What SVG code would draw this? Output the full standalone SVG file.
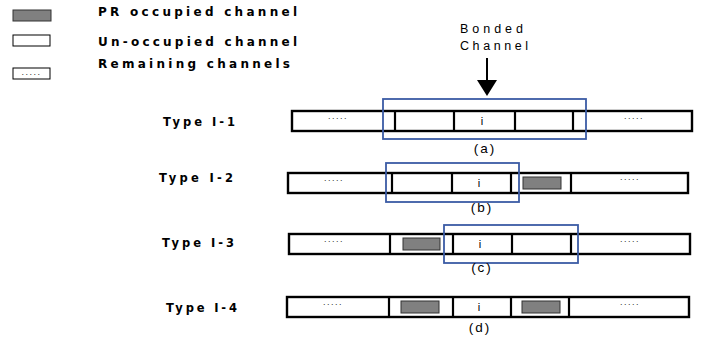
<svg xmlns="http://www.w3.org/2000/svg" width="709" height="343" viewBox="0 0 709 343">
<style>
.bar{fill:#fff;stroke:#000;stroke-width:2.4}
.div{stroke:#000;stroke-width:2.2}
.pr{fill:#808080;stroke:#333;stroke-width:1}
.blue{fill:none;stroke:#3b5ba5;stroke-width:1.8}
.lg{font-family:"DejaVu Sans",Verdana,sans-serif;font-weight:bold;font-size:12px}
.ty{font-family:"DejaVu Sans",Verdana,sans-serif;font-weight:bold;font-size:11.5px}
.dots{font-family:"Liberation Sans",Arial,sans-serif;font-size:9px;fill:#333;text-anchor:middle;letter-spacing:1.5px}
.i{font-family:"Liberation Sans",Arial,sans-serif;font-size:11px;text-anchor:middle}
.cap{font-family:"Liberation Sans",Arial,sans-serif;font-size:13.5px;text-anchor:middle;letter-spacing:2px}
.bc{font-family:"Liberation Sans",Arial,sans-serif;font-size:12.5px}
</style>
<rect width="709" height="343" fill="#fff"/>
<g id="legend">
<rect x="13" y="10" width="38" height="11" fill="#808080" stroke="#333" stroke-width="1"/>
<rect x="13" y="35" width="37" height="11" fill="#fff" stroke="#000" stroke-width="1"/>
<rect x="13" y="68" width="37" height="11" fill="#fff" stroke="#000" stroke-width="1"/>
<text class="dots" x="31.5" y="75" font-size="7">.....</text>
<text class="lg" x="98" y="15.5" textLength="199" lengthAdjust="spacing">PR occupied channel</text>
<text class="lg" x="98" y="45.5" textLength="199" lengthAdjust="spacing">Un-occupied channel</text>
<text class="lg" x="98" y="67.5" textLength="192" lengthAdjust="spacing">Remaining channels</text>
</g>
<g id="bonded-label">
<text class="bc" x="460" y="33" textLength="63" lengthAdjust="spacing">Bonded</text>
<text class="bc" x="460" y="50" textLength="68" lengthAdjust="spacing">Channel</text>
</g>
<g id="connectors">
<line x1="487" y1="58" x2="487" y2="82" stroke="#000" stroke-width="2"/>
<polygon points="477,80 497,80 487,96" fill="#000"/>
</g>
<g id="row1">
<text class="ty" x="163" y="125.5" textLength="72" lengthAdjust="spacing">Type I-1</text>
<rect class="bar" x="292" y="111" width="400" height="20"/>
<line class="div" x1="395" y1="111" x2="395" y2="131"/>
<line class="div" x1="454" y1="111" x2="454" y2="131"/>
<line class="div" x1="515" y1="111" x2="515" y2="131"/>
<line class="div" x1="573" y1="111" x2="573" y2="131"/>
<text class="dots" x="338" y="119">.....</text>
<text class="dots" x="634" y="119">.....</text>
<text class="i" x="482" y="125">i</text>
<rect class="blue" x="383" y="99" width="203" height="40"/>
<text class="cap" x="485" y="153">(a)</text>
</g>
<g id="row2">
<text class="ty" x="159" y="181.5" textLength="74" lengthAdjust="spacing">Type I-2</text>
<rect class="bar" x="288" y="173" width="400" height="20"/>
<line class="div" x1="392" y1="173" x2="392" y2="193"/>
<line class="div" x1="452" y1="173" x2="452" y2="193"/>
<line class="div" x1="511" y1="173" x2="511" y2="193"/>
<line class="div" x1="571" y1="173" x2="571" y2="193"/>
<rect class="pr" x="523" y="177" width="38" height="12"/>
<text class="dots" x="334" y="181">.....</text>
<text class="dots" x="630" y="180">.....</text>
<text class="i" x="479" y="187">i</text>
<rect class="blue" x="386" y="163" width="133" height="39"/>
<text class="cap" x="482" y="212">(b)</text>
</g>
<g id="row3">
<text class="ty" x="162" y="246.5" textLength="72" lengthAdjust="spacing">Type I-3</text>
<rect class="bar" x="289" y="234" width="401" height="20"/>
<line class="div" x1="390" y1="234" x2="390" y2="254"/>
<line class="div" x1="453" y1="234" x2="453" y2="254"/>
<line class="div" x1="512" y1="234" x2="512" y2="254"/>
<line class="div" x1="571" y1="234" x2="571" y2="254"/>
<rect class="pr" x="403" y="238" width="37" height="12"/>
<text class="dots" x="334" y="242">.....</text>
<text class="dots" x="630" y="242">.....</text>
<text class="i" x="480" y="248">i</text>
<rect class="blue" x="444" y="225" width="134" height="38"/>
<text class="cap" x="482" y="272">(c)</text>
</g>
<g id="row4">
<text class="ty" x="166" y="311.5" textLength="71" lengthAdjust="spacing">Type I-4</text>
<rect class="bar" x="287" y="297" width="402" height="20"/>
<line class="div" x1="389" y1="297" x2="389" y2="317"/>
<line class="div" x1="453" y1="297" x2="453" y2="317"/>
<line class="div" x1="511" y1="297" x2="511" y2="317"/>
<line class="div" x1="569" y1="297" x2="569" y2="317"/>
<rect class="pr" x="401" y="301" width="38" height="12"/>
<rect class="pr" x="522" y="301" width="38" height="12"/>
<text class="dots" x="333" y="305">.....</text>
<text class="dots" x="630" y="305">.....</text>
<text class="i" x="479" y="311">i</text>
<text class="cap" x="480" y="332">(d)</text>
</g>
</svg>
